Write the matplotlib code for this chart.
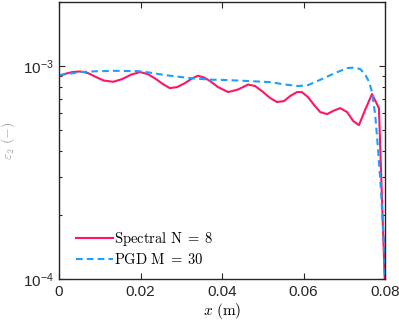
import numpy as np
import matplotlib
matplotlib.use('Agg')
import matplotlib.pyplot as plt
from matplotlib.ticker import LogLocator, NullFormatter

plt.rcParams['font.family'] = ['Liberation Sans', 'DejaVu Sans']
plt.rcParams['mathtext.fontset'] = 'cm'

# Spectral N = 8
x_spec = [0, 0.0017, 0.0032, 0.0052, 0.0071, 0.0091, 0.0110, 0.0133, 0.0155,
          0.0177, 0.0199, 0.0218, 0.0238, 0.0255, 0.0272, 0.0290, 0.0309,
          0.0326, 0.0341, 0.0356, 0.0371, 0.0390, 0.0415, 0.0439, 0.0464,
          0.0481, 0.0498, 0.0518, 0.0535, 0.0552, 0.0567, 0.0584, 0.0596,
          0.0611, 0.0626, 0.0641, 0.0658, 0.0672, 0.0690, 0.0707, 0.0722,
          0.0736, 0.0751, 0.0768, 0.0785, 0.0800]
y_spec = [0.897, 0.922, 0.937, 0.944, 0.927, 0.888, 0.855, 0.844, 0.869,
          0.912, 0.937, 0.917, 0.869, 0.823, 0.788, 0.797, 0.832, 0.874,
          0.901, 0.883, 0.850, 0.797, 0.755, 0.776, 0.819, 0.806, 0.763,
          0.708, 0.678, 0.685, 0.723, 0.755, 0.755, 0.715, 0.656, 0.608,
          0.595, 0.615, 0.635, 0.608, 0.552, 0.528, 0.622, 0.739, 0.635,
          0.09]

# PGD M = 30
x_pgd = [0, 0.0027, 0.0052, 0.0088, 0.0137, 0.0194, 0.0223, 0.0260, 0.0322,
         0.0371, 0.0412, 0.0469, 0.0518, 0.0555, 0.0587, 0.0611, 0.0645,
         0.0677, 0.0707, 0.0726, 0.0739, 0.0751, 0.0761, 0.0768, 0.0776,
         0.0783, 0.0790, 0.0798, 0.0800]
y_pgd = [0.907, 0.922, 0.937, 0.945, 0.950, 0.947, 0.932, 0.907, 0.878,
         0.864, 0.860, 0.850, 0.841, 0.819, 0.806, 0.814, 0.869, 0.927,
         0.979, 0.984, 0.968, 0.917, 0.841, 0.755, 0.589, 0.403, 0.262,
         0.137, 0.09]

fig = plt.figure(figsize=(3.99, 3.22), dpi=100)
ax = fig.add_axes([0.148, 0.1335, 0.817, 0.8603])

ax.semilogy(x_spec, np.array(y_spec) * 1e-3, '-', color='#ff1466', lw=1.5,
            label=r'$\mathrm{Spectral\ N}\;=\;8$')
ax.semilogy(x_pgd, np.array(y_pgd) * 1e-3, '--', color='#1a9fff', lw=1.5,
            dashes=(3.2, 2.0), label=r'$\mathrm{PGD\ M}\;=\;30$')

ax.set_xlim(0, 0.08)
ax.set_ylim(1e-4, 2e-3)
ax.set_xticks([0, 0.02, 0.04, 0.06, 0.08])
ax.set_xticklabels(['0', '0.02', '0.04', '0.06', '0.08'])
ax.set_yticks([1e-4, 1e-3])
ax.set_yticklabels([r'$\mathregular{10^{-4}}$', r'$\mathregular{10^{-3}}$'])
ax.yaxis.set_minor_locator(LogLocator(base=10, subs=np.arange(2, 10)))
ax.yaxis.set_minor_formatter(NullFormatter())

ax.tick_params(which='both', direction='in', top=True, right=True,
               labelsize=11, width=0.8, colors='#262626', pad=4)
ax.tick_params(which='major', length=4)
ax.tick_params(which='minor', length=2.5)
for s in ax.spines.values():
    s.set_linewidth(1.0)
    s.set_color('#262626')

ax.set_xlabel(r'$x\ \mathrm{(m)}$', fontsize=11, labelpad=1.5)
ax.set_ylabel(r'$\varepsilon_2\ \mathrm{(-)}$', fontsize=10, color='#999999')
ax.yaxis.set_label_coords(-0.128, 0.5)

ax.legend(loc='lower left', bbox_to_anchor=(0.035, 0.022), frameon=False,
          fontsize=10.5, handlelength=2.5, handletextpad=0.1, labelspacing=0.3,
          borderaxespad=0)

fig.savefig('out.png', dpi=100)
